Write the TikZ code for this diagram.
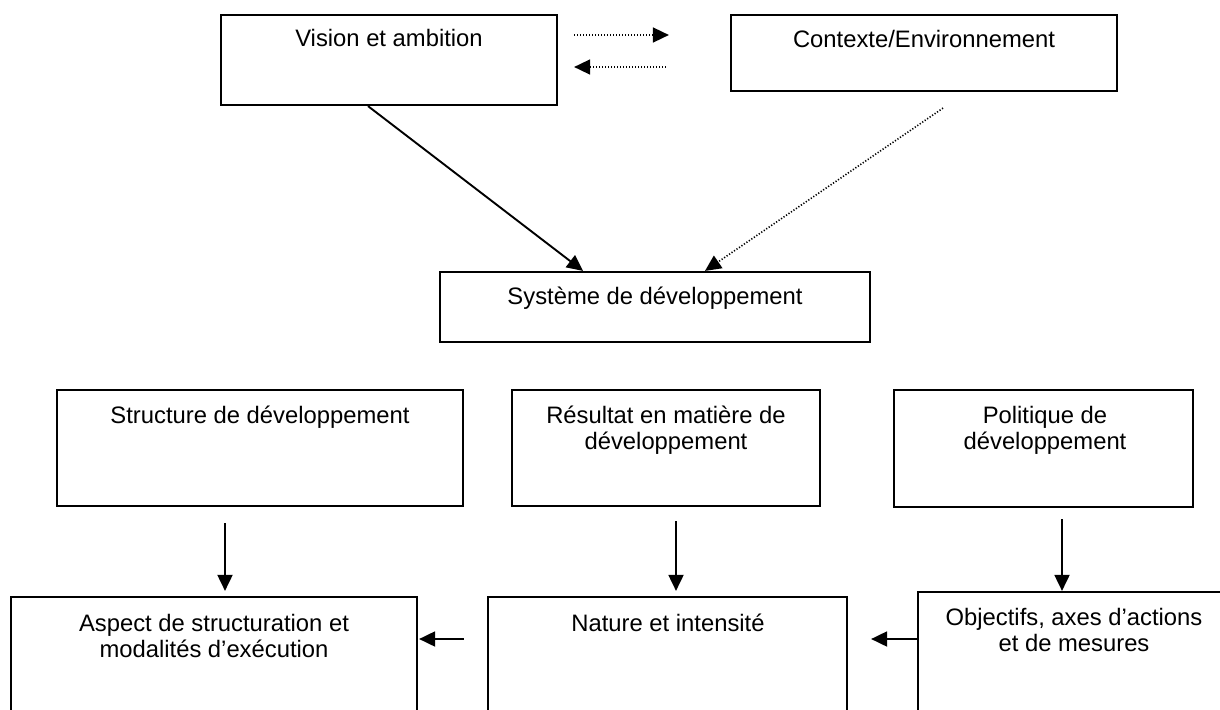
\documentclass[tikz,border=0pt]{standalone}
\usepackage{fontspec}
\setmainfont{Liberation Sans}
\usetikzlibrary{arrows.meta}
\begin{document}
\begin{tikzpicture}[x=1pt,y=-1pt,
  box/.style={draw=black, line width=2.2pt, rectangle, inner sep=0pt},
  txt/.style={font=\fontsize{23.8}{26}\selectfont, align=center, anchor=base, inner sep=0pt},
  conn/.style={line width=1.9pt, -{Triangle[length=16pt,width=15pt]}},
  dotconn/.style={conn, line width=1.6pt, dash pattern=on 1.2pt off 1.8pt}
]
\clip (0,0) rectangle (1220,709);
\fill[white] (0,0) rectangle (1220,709);

% boxes
\node[box, minimum width=336pt, minimum height=90pt] (vision) at (389,60) {};
\node[box, minimum width=386pt, minimum height=76pt] (ctx) at (924,53) {};
\node[box, minimum width=430pt, minimum height=70pt] (sys) at (655,307) {};
\node[box, minimum width=406pt, minimum height=116pt] (struct) at (260,448) {};
\node[box, minimum width=308pt, minimum height=116pt] (res) at (666,448) {};
\node[box, minimum width=299pt, minimum height=117pt] (pol) at (1043.5,448.5) {};
\node[box, minimum width=406pt, minimum height=133pt] (aspect) at (214,663.5) {};
\node[box, minimum width=359pt, minimum height=133pt] (nature) at (667.5,663.5) {};
\node[box, minimum width=312pt, minimum height=138pt] (obj) at (1074,661) {};

% texts (anchor base = last line's baseline)
\node[txt] (visiont) at (389,47) {Vision et ambition};
\node[txt] (ctxt) at (924,48) {Contexte/Environnement};
\node[txt] (syst) at (655,304) {Système de développement};
\node[txt] (structt) at (260,423) {Structure de développement};
\node[txt] (rest) at (666,449) {Résultat en matière de\\développement};
\node[txt] (polt) at (1045,449) {Politique de\\développement};
\node[txt] (aspectt) at (214,657) {Aspect de structuration et\\modalités d’exécution};
\node[txt] (naturet) at (668,631) {Nature et intensité};
\node[txt] (objt) at (1074,651) {Objectifs, axes d’actions\\et de mesures};

% connectors
\draw[dotconn] ([xshift=16pt,yshift=25pt]vision.east) -- ([xshift=-61pt,yshift=18pt]ctx.west);
\draw[dotconn] ([xshift=-64pt,yshift=-14pt]ctx.west) -- ([xshift=16pt,yshift=-7pt]vision.east);
\draw[conn] ([xshift=-21pt]vision.south) -- ([xshift=-72pt]sys.north);
\draw[dotconn] ([xshift=19pt,yshift=-16pt]ctx.south) -- ([xshift=50pt]sys.north);
\draw[conn] ([xshift=-35pt,yshift=-16pt]struct.south) -- ([xshift=11pt,yshift=5pt]aspect.north);
\draw[conn] ([xshift=10pt,yshift=-14pt]res.south) -- ([xshift=8.5pt,yshift=5pt]nature.north);
\draw[conn] ([xshift=18.5pt,yshift=-11pt]pol.south) -- ([xshift=-12pt]obj.north);
\draw[conn] ([xshift=-23pt,yshift=24.5pt]nature.west) -- ([xshift=1pt,yshift=24.5pt]aspect.east);
\draw[conn] ([yshift=22pt]obj.west) -- ([xshift=23pt,yshift=24.5pt]nature.east);
\end{tikzpicture}
\end{document}
